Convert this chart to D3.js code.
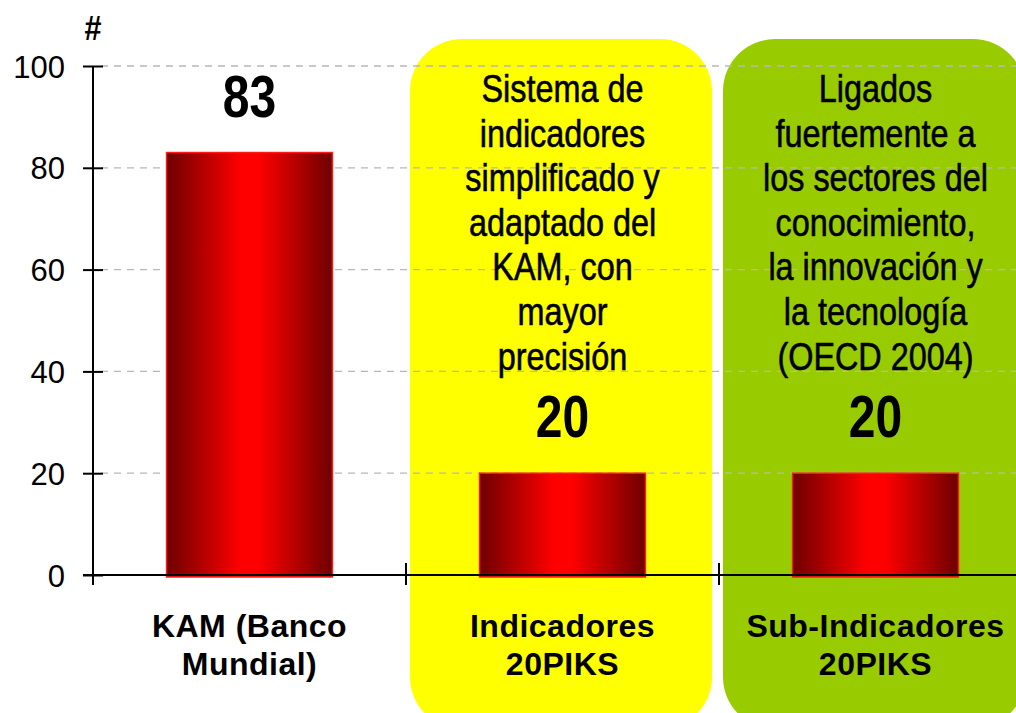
<!DOCTYPE html>
<html><head><meta charset="utf-8">
<script src="https://cdn.jsdelivr.net/npm/d3@7"></script>
<style>
html,body{margin:0;padding:0;background:#fff;overflow:hidden}
.arial{font-family:"Liberation Sans",Arial,sans-serif}
</style></head><body>
<svg id="chart" width="1016" height="713"></svg>
<script>
const categories = ["KAM (Banco Mundial)", "Indicadores 20PIKS", "Sub-Indicadores 20PIKS"];
const categoryLines = [["KAM (Banco", "Mundial)"], ["Indicadores", "20PIKS"], ["Sub-Indicadores", "20PIKS"]];
const values = [83, 20, 20];
const yTicks = [0, 20, 40, 60, 80, 100];
const boxTexts = [
  [],
  ["Sistema de", "indicadores", "simplificado y", "adaptado del", "KAM, con", "mayor", "precisión"],
  ["Ligados", "fuertemente a", "los sectores del", "conocimiento,", "la innovación y", "la tecnología", "(OECD 2004)"]
];
const boxColors = [null, "#ffff00", "#99cc00"];
const yAxisTitle = "#";

const svg = d3.select("#chart");
const mLeft = 93, mRight = 1032, mTop = 66, mBottom = 575;
const narrow = 0.82; // Arial Narrow ≈ Arial condensed horizontally

const x = d3.scaleBand().domain(categories).range([mLeft, mRight]).paddingInner(0.47).paddingOuter(0.235);
const cell = d3.scaleBand().domain(categories).range([mLeft, mRight]).padding(0);
const y = d3.scaleLinear().domain([0, 100]).range([mBottom, mTop]);

// gradient
const defs = svg.append("defs");
const g = defs.append("linearGradient").attr("id", "barGrad").attr("x1", "0").attr("x2", "1").attr("y1", "0").attr("y2", "0");
g.append("stop").attr("offset", "0%").attr("stop-color", "#6e0000");
g.append("stop").attr("offset", "45%").attr("stop-color", "#ff0000");
g.append("stop").attr("offset", "55%").attr("stop-color", "#ff0000");
g.append("stop").attr("offset", "100%").attr("stop-color", "#6e0000");

// background boxes
categories.forEach((c, i) => {
  if (!boxColors[i]) return;
  svg.append("rect")
    .attr("x", cell(c) + 4).attr("y", 39)
    .attr("width", cell.bandwidth() - 11).attr("height", 690)
    .attr("rx", 52).attr("ry", 52)
    .attr("fill", boxColors[i]);
});

// gridlines
svg.append("g").selectAll("line").data(yTicks.filter(d => d > 0)).join("line")
  .attr("x1", mLeft + 8).attr("x2", 1016)
  .attr("y1", d => y(d)).attr("y2", d => y(d))
  .attr("stroke", "#b8b8b8").attr("stroke-width", 1.3).attr("stroke-dasharray", "7,6");

// box texts
categories.forEach((c, i) => {
  const lines = boxTexts[i];
  if (!lines.length) return;
  const cx = x(c) + x.bandwidth() / 2;
  svg.append("text").attr("class", "arial")
    .attr("transform", `translate(${cx},0) scale(${narrow},1)`)
    .attr("text-anchor", "middle").attr("font-size", 39.5).attr("fill", "#000")
    .attr("stroke", "#000").attr("stroke-width", 0.6)
    .selectAll("tspan").data(lines).join("tspan")
    .attr("x", 0).attr("y", (d, k) => 102 + k * 44.6).text(d => d);
});

// bars
svg.append("g").selectAll("rect").data(values).join("rect")
  .attr("x", (d, i) => x(categories[i]))
  .attr("y", d => y(d))
  .attr("width", x.bandwidth())
  .attr("height", d => y(0) - y(d) + 2)
  .attr("fill", "url(#barGrad)")
  .attr("stroke", "#ff1a1a").attr("stroke-width", 1.5);

// value labels
svg.append("g").selectAll("text").data(values).join("text")
  .attr("class", "arial")
  .attr("transform", (d, i) => `translate(${x(categories[i]) + x.bandwidth() / 2},${y(d) - 36}) scale(0.8,1)`)
  .attr("text-anchor", "middle").attr("font-size", 60).attr("font-weight", "bold")
  .text(d => d);

// y axis
const yAxis = d3.axisLeft(y).tickValues(yTicks).tickSize(10).tickPadding(18);
const ya = svg.append("g").attr("transform", `translate(${mLeft},0)`).call(yAxis);
ya.select(".domain").remove();
ya.selectAll(".tick line").attr("x1", -10).attr("x2", 10).attr("stroke", "#000").attr("stroke-width", 2);
ya.selectAll(".tick text").attr("class", "arial").attr("font-size", 31).attr("fill", "#000").attr("dy", "0.36em").attr("x", -28);
svg.append("line").attr("x1", mLeft).attr("x2", mLeft).attr("y1", mTop).attr("y2", mBottom + 10)
  .attr("stroke", "#000").attr("stroke-width", 2);

// x axis
svg.append("line").attr("x1", mLeft - 10).attr("x2", 1016).attr("y1", mBottom).attr("y2", mBottom)
  .attr("stroke", "#000").attr("stroke-width", 2);
svg.append("g").selectAll("line").data(categories.slice(1)).join("line")
  .attr("x1", d => cell(d)).attr("x2", d => cell(d))
  .attr("y1", mBottom - 12).attr("y2", mBottom + 10)
  .attr("stroke", "#000").attr("stroke-width", 2);

// category labels
categories.forEach((c, i) => {
  svg.append("text").attr("class", "arial")
    .attr("text-anchor", "middle").attr("font-size", 32).attr("font-weight", "bold")
    .attr("letter-spacing", 0.5)
    .selectAll("tspan").data(categoryLines[i]).join("tspan")
    .attr("x", x(c) + x.bandwidth() / 2).attr("y", (d, k) => 637 + k * 38).text(d => d);
});

// y axis title
svg.append("text").attr("class", "arial")
  .attr("transform", `translate(${mLeft},40) scale(0.85,1)`)
  .attr("text-anchor", "middle").attr("font-size", 36).attr("font-weight", "bold").text(yAxisTitle);
</script>
</body></html>
